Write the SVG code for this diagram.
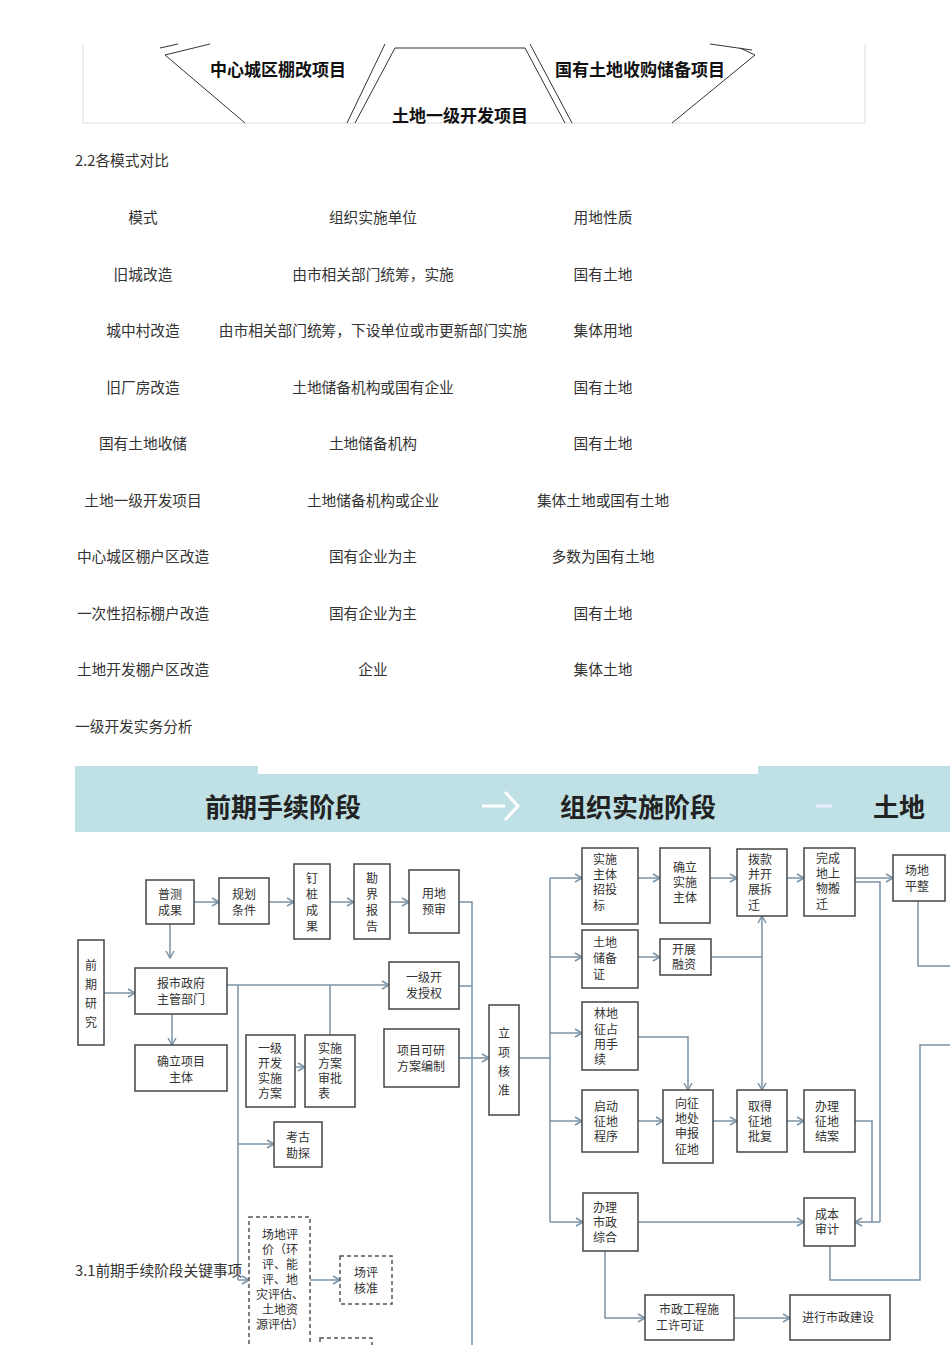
<svg xmlns="http://www.w3.org/2000/svg" width="950" height="1345" viewBox="0 0 950 1345">
<defs>
<marker id="ah" markerWidth="10" markerHeight="10" refX="8" refY="5" orient="auto" markerUnits="userSpaceOnUse"><path d="M1,1 L8,5 L1,9" fill="none" stroke="#7b93a6" stroke-width="1.5"/></marker>
</defs>
<style>
.t{font-family:"Noto Sans CJK SC","Liberation Sans",sans-serif;font-size:14.7px;fill:#333;text-anchor:middle}
.tl{font-family:"Noto Sans CJK SC","Liberation Sans",sans-serif;font-size:14.7px;fill:#333}
.b{fill:#fff;stroke:#444;stroke-width:1.5}
.d{fill:#fff;stroke:#555;stroke-width:1.5;stroke-dasharray:4,3}
.n{font-family:"Noto Sans CJK SC","Liberation Sans",sans-serif;font-size:12px;fill:#333;text-anchor:middle}
.c{fill:none;stroke:#7b93a6;stroke-width:1.5}
.ca{fill:none;stroke:#7b93a6;stroke-width:1.5;marker-end:url(#ah)}
.h{font-family:"Noto Sans CJK SC","Liberation Sans",sans-serif;font-size:26px;font-weight:bold;fill:#222;text-anchor:middle}
.s{font-family:"Noto Sans CJK SC","Liberation Sans",sans-serif;font-size:17px;font-weight:bold;fill:#111;text-anchor:middle}
</style>
<rect width="950" height="1345" fill="#fff"/>
<g id="top-figure">
<path d="M83,44 V123 H865 V44" fill="none" stroke="#ddd"/>
<path d="M160,48 L178,44 M165,55 L245,123 M165,55 L210,44" fill="none" stroke="#333"/>
<path d="M347,123 L385,44 M355,123 L395,48 L525,48 L565,123 M530,44 L572,123" fill="none" stroke="#333"/>
<path d="M755,55 L672,123 M755,55 L740,48 M710,44 L752,50" fill="none" stroke="#333"/>
<text class="s" x="278" y="76">中心城区棚改项目</text>
<text class="s" x="640" y="76">国有土地收购储备项目</text>
<text class="s" x="460" y="122">土地一级开发项目</text>
</g>
<g id="table">
<text class="tl" x="75" y="166">2.2各模式对比</text>
<g class="t">
<text x="143" y="223">模式</text><text x="373" y="223">组织实施单位</text><text x="603" y="223">用地性质</text>
<text x="143" y="280">旧城改造</text><text x="373" y="280">由市相关部门统筹，实施</text><text x="603" y="280">国有土地</text>
<text x="143" y="336">城中村改造</text><text x="373" y="336">由市相关部门统筹，下设单位或市更新部门实施</text><text x="603" y="336">集体用地</text>
<text x="143" y="393">旧厂房改造</text><text x="373" y="393">土地储备机构或国有企业</text><text x="603" y="393">国有土地</text>
<text x="143" y="449">国有土地收储</text><text x="373" y="449">土地储备机构</text><text x="603" y="449">国有土地</text>
<text x="143" y="506">土地一级开发项目</text><text x="373" y="506">土地储备机构或企业</text><text x="603" y="506">集体土地或国有土地</text>
<text x="143" y="562">中心城区棚户区改造</text><text x="373" y="562">国有企业为主</text><text x="603" y="562">多数为国有土地</text>
<text x="143" y="619">一次性招标棚户改造</text><text x="373" y="619">国有企业为主</text><text x="603" y="619">国有土地</text>
<text x="143" y="675">土地开发棚户区改造</text><text x="373" y="675">企业</text><text x="603" y="675">集体土地</text>
</g>
<text class="tl" x="75" y="732">一级开发实务分析</text>
</g>
<g id="header">
<rect x="75" y="766" width="875" height="66" fill="#bfe0e4"/>
<rect x="258" y="766" width="500" height="8" fill="#fff"/>
<text class="h" x="283" y="817">前期手续阶段</text>
<text class="h" x="638" y="817">组织实施阶段</text>
<text class="h" x="873" y="817" style="text-anchor:start">土地</text>
<path d="M482,806 H505 M505,792 L518,806 L505,820" fill="none" stroke="#fff" stroke-width="3"/>
<path d="M816,806 H832" stroke="#eef" stroke-width="3"/>
</g>
<g id="connectors">
<path class="ca" d="M104,993 H135"/>
<path class="ca" d="M170,924 V958"/>
<path class="ca" d="M172,1014 V1045"/>
<path class="ca" d="M194,902 H219"/>
<path class="ca" d="M269,902 H294"/>
<path class="ca" d="M330,902 H354"/>
<path class="ca" d="M390,902 H409"/>
<path class="c" d="M459,902 H472 V1345 M459,986 H472"/>
<path class="ca" d="M227,985 H389"/>
<path class="c" d="M238,985 V1280 M330,985 V1035"/>
<path class="ca" d="M238,1144 H274"/>
<path class="ca" d="M238,1280 H249"/>
<path class="ca" d="M295,1067 H305"/>
<path class="ca" d="M310,1280 H340"/>
<path class="ca" d="M459,1058 H489"/>
<path class="c" d="M519,1058 H550 M550,878 V1222"/>
<path class="ca" d="M550,878 H582"/>
<path class="ca" d="M550,957 H582"/>
<path class="ca" d="M550,1033 H582"/>
<path class="ca" d="M550,1121 H582"/>
<path class="ca" d="M550,1222 H583"/>
<path class="ca" d="M638,878 H660"/>
<path class="ca" d="M710,878 H737"/>
<path class="ca" d="M787,878 H804"/>
<path class="ca" d="M855,878 H893"/>
<path class="ca" d="M638,957 H660"/>
<path class="c" d="M711,957 H762"/>
<path class="ca" d="M762,1000 V916"/>
<path class="ca" d="M762,1000 V1090"/>
<path class="ca" d="M638,1037 H688 V1090"/>
<path class="ca" d="M638,1121 H663"/>
<path class="ca" d="M713,1121 H737"/>
<path class="ca" d="M787,1121 H804"/>
<path class="c" d="M855,1121 H872 V1222 M855,882 H880 V1222"/>
<path class="ca" d="M880,1222 H855"/>
<path class="ca" d="M638,1222 H804"/>
<path class="c" d="M830,1246 V1280 H920 V1045 H950 M918,901 V966 H950"/>
<path class="ca" d="M605,1251 V1318 H645"/>
<path class="ca" d="M734,1318 H790"/>
</g>
<g id="nodes">
<g id="n1"><rect class="b" x="78" y="940" width="26" height="105"/><text class="n"><tspan x="91" y="970">前</tspan><tspan x="91" y="989">期</tspan><tspan x="91" y="1008">研</tspan><tspan x="91" y="1027">究</tspan></text></g>
<g id="n2"><rect class="b" x="146" y="880" width="48" height="44"/><text class="n"><tspan x="170" y="899">普测</tspan><tspan x="170" y="915">成果</tspan></text></g>
<g id="n3"><rect class="b" x="219" y="878" width="50" height="46"/><text class="n"><tspan x="244" y="899">规划</tspan><tspan x="244" y="915">条件</tspan></text></g>
<g id="n4"><rect class="b" x="294" y="864" width="36" height="75"/><text class="n"><tspan x="312" y="883">钉</tspan><tspan x="312" y="899">桩</tspan><tspan x="312" y="915">成</tspan><tspan x="312" y="931">果</tspan></text></g>
<g id="n5"><rect class="b" x="354" y="864" width="36" height="75"/><text class="n"><tspan x="372" y="883">勘</tspan><tspan x="372" y="899">界</tspan><tspan x="372" y="915">报</tspan><tspan x="372" y="931">告</tspan></text></g>
<g id="n6"><rect class="b" x="409" y="870" width="50" height="63"/><text class="n"><tspan x="434" y="898">用地</tspan><tspan x="434" y="914">预审</tspan></text></g>
<g id="n7"><rect class="b" x="135" y="968" width="92" height="46"/><text class="n"><tspan x="181" y="988">报市政府</tspan><tspan x="181" y="1004">主管部门</tspan></text></g>
<g id="n8"><rect class="b" x="135" y="1045" width="92" height="46"/><text class="n"><tspan x="181" y="1066">确立项目</tspan><tspan x="181" y="1082">主体</tspan></text></g>
<g id="n9"><rect class="b" x="389" y="962" width="70" height="47"/><text class="n"><tspan x="424" y="982">一级开</tspan><tspan x="424" y="998">发授权</tspan></text></g>
<g id="n10"><rect class="b" x="384" y="1029" width="75" height="58"/><text class="n"><tspan x="421" y="1055">项目可研</tspan><tspan x="421" y="1071">方案编制</tspan></text></g>
<g id="n11"><rect class="b" x="246" y="1035" width="49" height="72"/><text class="n"><tspan x="270" y="1053">一级</tspan><tspan x="270" y="1068">开发</tspan><tspan x="270" y="1083">实施</tspan><tspan x="270" y="1098">方案</tspan></text></g>
<g id="n12"><rect class="b" x="305" y="1035" width="50" height="72"/><text class="n"><tspan x="330" y="1053">实施</tspan><tspan x="330" y="1068">方案</tspan><tspan x="330" y="1083">审批</tspan><tspan x="324" y="1098">表</tspan></text></g>
<g id="n13"><rect class="b" x="274" y="1122" width="48" height="45"/><text class="n"><tspan x="298" y="1142">考古</tspan><tspan x="298" y="1158">勘探</tspan></text></g>
<g id="n14"><rect class="b" x="489" y="1005" width="30" height="110"/><text class="n"><tspan x="504" y="1038">立</tspan><tspan x="504" y="1057">项</tspan><tspan x="504" y="1076">核</tspan><tspan x="504" y="1095">准</tspan></text></g>
<g id="n15"><rect class="d" x="249" y="1217" width="61" height="132"/><text class="n"><tspan x="280" y="1239">场地评</tspan><tspan x="280" y="1254">价（环</tspan><tspan x="280" y="1269">评、能</tspan><tspan x="280" y="1284">评、地</tspan><tspan x="280" y="1299">灾评估、</tspan><tspan x="280" y="1314">土地资</tspan><tspan x="280" y="1329">源评估）</tspan></text></g>
<g id="n16"><rect class="d" x="340" y="1256" width="52" height="48"/><text class="n"><tspan x="366" y="1277">场评</tspan><tspan x="366" y="1293">核准</tspan></text></g>
<g id="n17"><rect class="d" x="320" y="1338" width="52" height="20"/></g>
<g id="n18"><rect class="b" x="582" y="848" width="56" height="76"/><text class="n"><tspan x="605" y="864">实施</tspan><tspan x="605" y="879">主体</tspan><tspan x="605" y="894">招投</tspan><tspan x="599" y="910">标</tspan></text></g>
<g id="n19"><rect class="b" x="660" y="848" width="50" height="75"/><text class="n"><tspan x="685" y="872">确立</tspan><tspan x="685" y="887">实施</tspan><tspan x="685" y="902">主体</tspan></text></g>
<g id="n20"><rect class="b" x="737" y="849" width="50" height="67"/><text class="n"><tspan x="760" y="864">拨款</tspan><tspan x="760" y="879">并开</tspan><tspan x="760" y="894">展拆</tspan><tspan x="754" y="910">迁</tspan></text></g>
<g id="n21"><rect class="b" x="804" y="848" width="51" height="68"/><text class="n"><tspan x="828" y="863">完成</tspan><tspan x="828" y="878">地上</tspan><tspan x="828" y="893">物搬</tspan><tspan x="822" y="909">迁</tspan></text></g>
<g id="n22"><rect class="b" x="893" y="855" width="52" height="46"/><text class="n"><tspan x="917" y="875">场地</tspan><tspan x="917" y="891">平整</tspan></text></g>
<g id="n23"><rect class="b" x="582" y="930" width="56" height="58"/><text class="n"><tspan x="605" y="947">土地</tspan><tspan x="605" y="963">储备</tspan><tspan x="599" y="979">证</tspan></text></g>
<g id="n24"><rect class="b" x="660" y="939" width="51" height="36"/><text class="n"><tspan x="684" y="954">开展</tspan><tspan x="684" y="969">融资</tspan></text></g>
<g id="n25"><rect class="b" x="582" y="1002" width="56" height="68"/><text class="n"><tspan x="606" y="1018">林地</tspan><tspan x="606" y="1034">征占</tspan><tspan x="606" y="1049">用手</tspan><tspan x="600" y="1064">续</tspan></text></g>
<g id="n26"><rect class="b" x="582" y="1090" width="56" height="62"/><text class="n"><tspan x="606" y="1111">启动</tspan><tspan x="606" y="1126">征地</tspan><tspan x="606" y="1141">程序</tspan></text></g>
<g id="n27"><rect class="b" x="663" y="1090" width="50" height="73"/><text class="n"><tspan x="687" y="1108">向征</tspan><tspan x="687" y="1123">地处</tspan><tspan x="687" y="1138">申报</tspan><tspan x="687" y="1154">征地</tspan></text></g>
<g id="n28"><rect class="b" x="737" y="1090" width="50" height="62"/><text class="n"><tspan x="760" y="1111">取得</tspan><tspan x="760" y="1126">征地</tspan><tspan x="760" y="1141">批复</tspan></text></g>
<g id="n29"><rect class="b" x="804" y="1090" width="51" height="62"/><text class="n"><tspan x="827" y="1111">办理</tspan><tspan x="827" y="1126">征地</tspan><tspan x="827" y="1141">结案</tspan></text></g>
<g id="n30"><rect class="b" x="583" y="1193" width="55" height="58"/><text class="n"><tspan x="605" y="1212">办理</tspan><tspan x="605" y="1227">市政</tspan><tspan x="605" y="1242">综合</tspan></text></g>
<g id="n31"><rect class="b" x="804" y="1198" width="51" height="48"/><text class="n"><tspan x="827" y="1219">成本</tspan><tspan x="827" y="1234">审计</tspan></text></g>
<g id="n32"><rect class="b" x="645" y="1295" width="89" height="45"/><text class="n"><tspan x="689" y="1314">市政工程施</tspan><tspan x="680" y="1330">工许可证</tspan></text></g>
<g id="n33"><rect class="b" x="790" y="1295" width="100" height="45"/><text class="n" x="838" y="1322">进行市政建设</text></g>
</g>
<text class="tl" x="75" y="1276">3.1前期手续阶段关键事项</text>
</svg>
